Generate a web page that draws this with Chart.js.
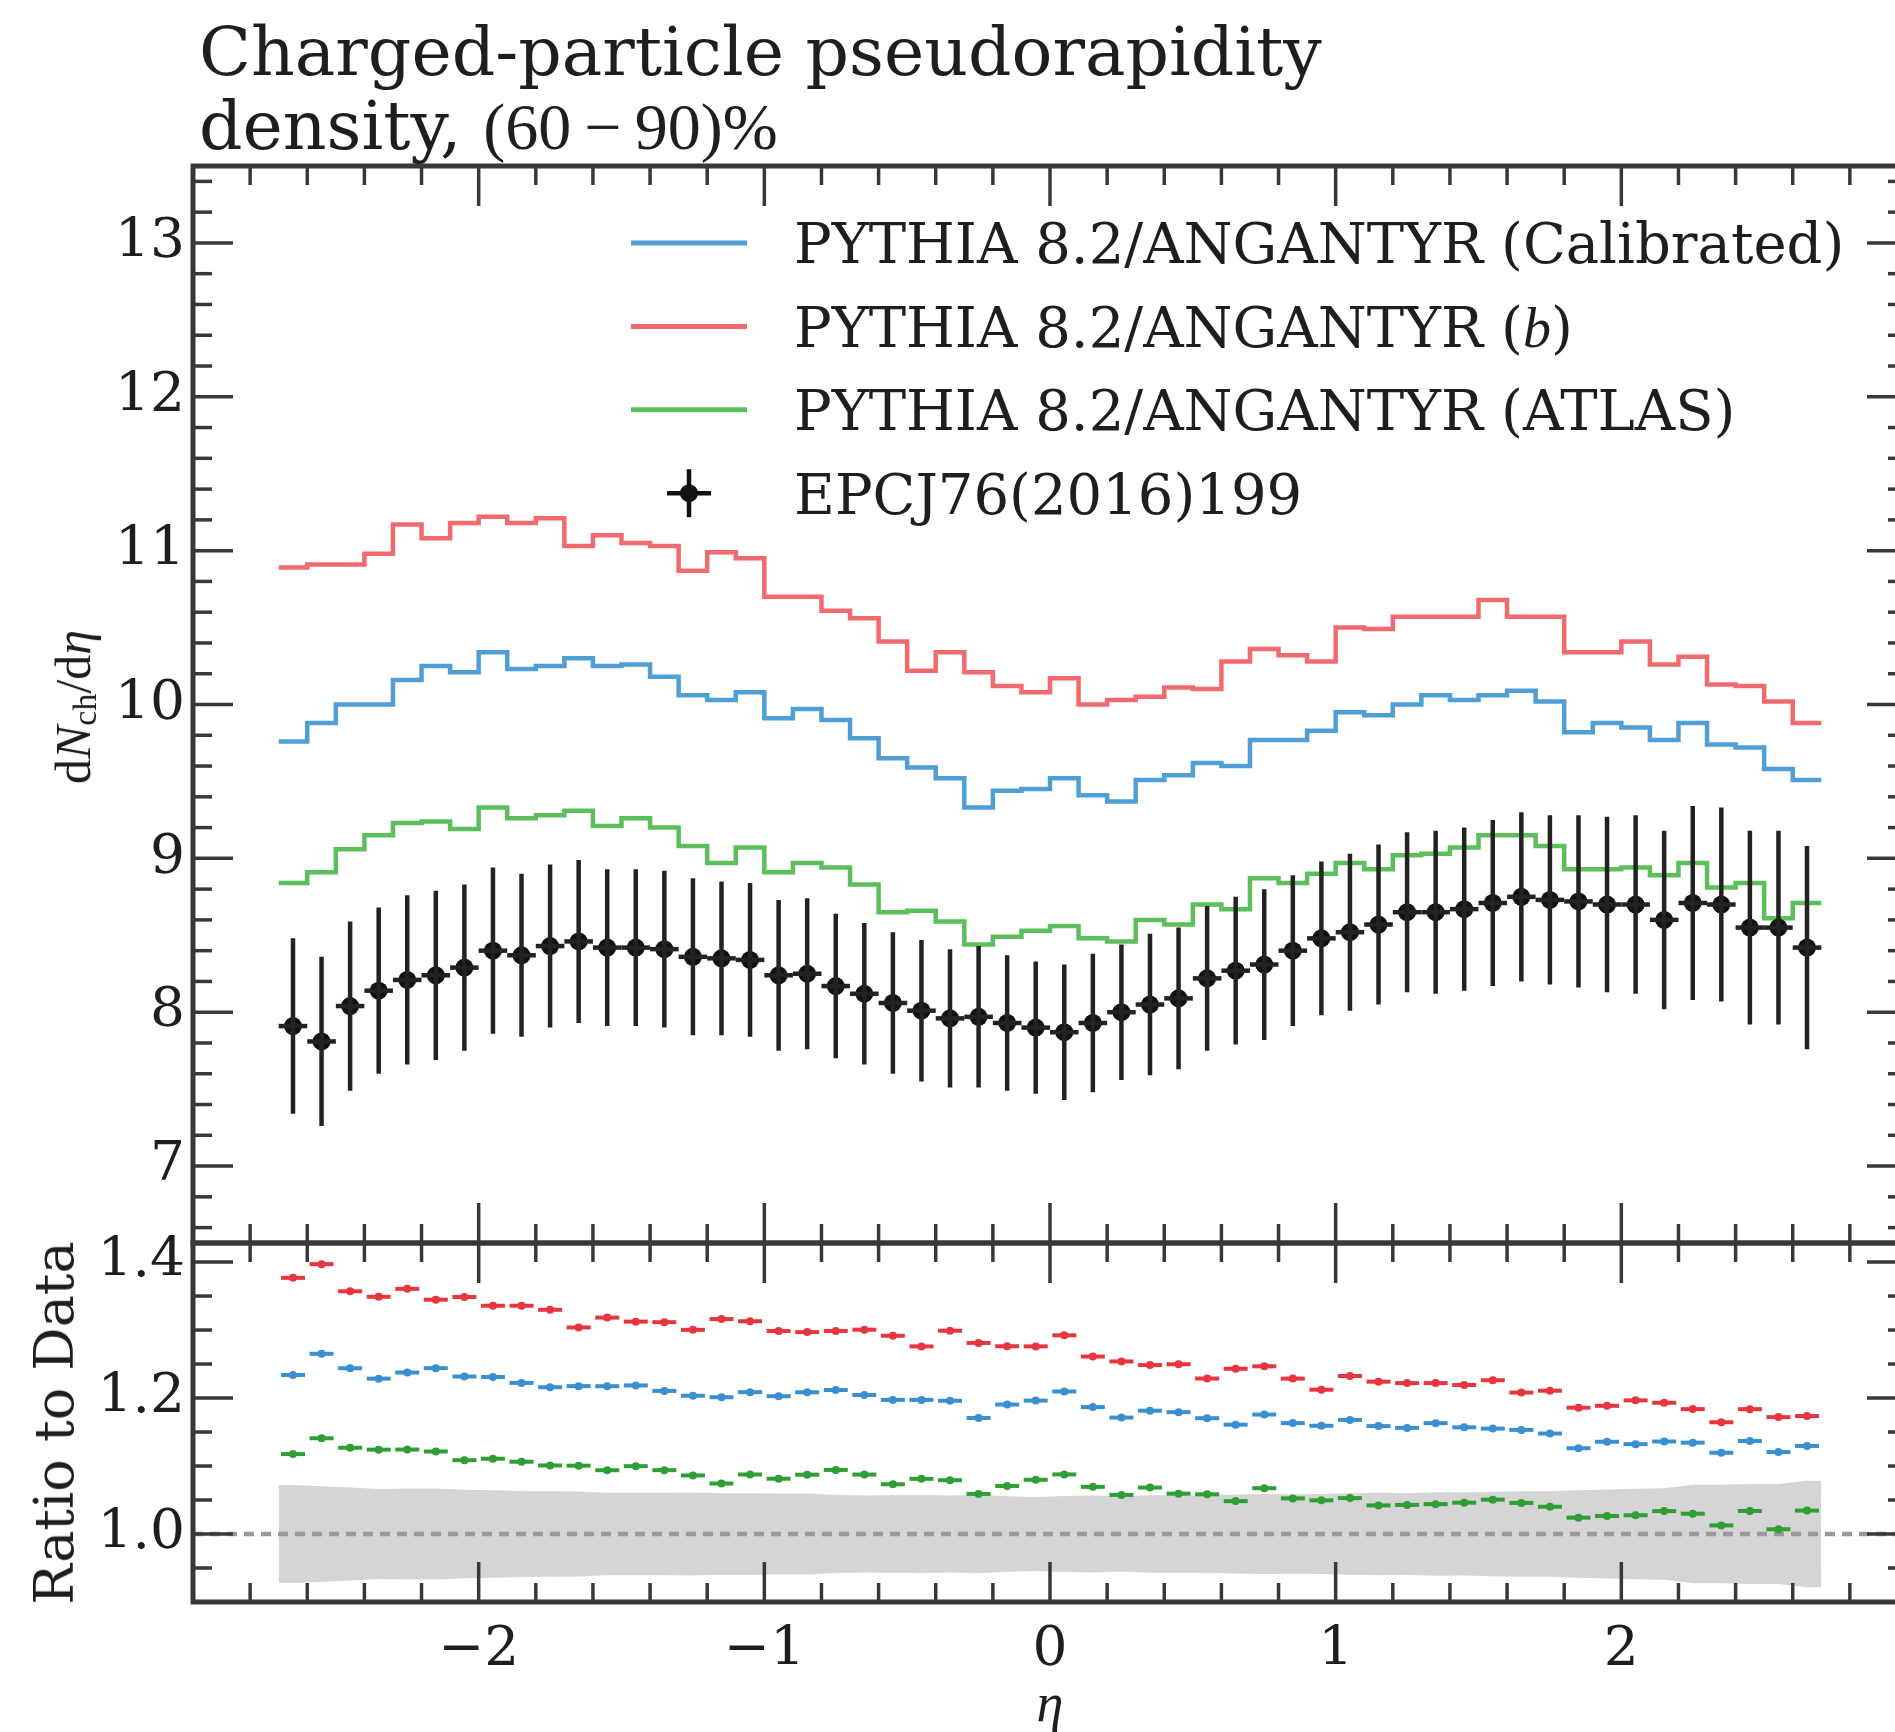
<!DOCTYPE html>
<html>
<head>
<meta charset="utf-8">
<script src="https://cdn.jsdelivr.net/npm/chart.js@4.4.1/dist/chart.umd.min.js"></script>
<style>
  html, body { margin: 0; padding: 0; background: #fff; overflow: hidden; }
  #wrap { position: relative; width: 1895px; height: 1732px; overflow: hidden; }
  #c { position: absolute; left: 0; top: 0; }
  .lbl { position: absolute; color: #1e1e1e; white-space: nowrap; }
  #title { left: 199px; top: 15px; font-family: "DejaVu Serif"; font-size: 68px; line-height: 74px; }
  #title .math { font-family: "Liberation Serif"; font-size: 66px; }
  .rot { transform: translate(-50%, -50%) rotate(-90deg); line-height: 1; }
  #ylab { left: 75px; top: 707px; font-family: "Liberation Serif"; font-size: 50px; }
  #ylab sub { font-size: 34px; vertical-align: -6px; }
  #rlab { left: 55px; top: 1423px; font-family: "DejaVu Serif"; font-size: 54px; }
  #xlab { left: 1050px; top: 1703px; transform: translate(-50%, -50%); font-family: "Liberation Serif"; font-style: italic; font-size: 54px; line-height: 1; }
</style>
</head>
<body>
<div id="wrap">
  <canvas id="c" width="1920" height="1732" style="width:1920px;height:1732px"></canvas>
  <div id="title" class="lbl">Charged-particle pseudorapidity<br>density, <span class="math">(60&#8201;&#8722;&#8201;90)%</span></div>
  <div id="ylab" class="lbl rot">d<i>N</i><sub>ch</sub>/d<i>&#951;</i></div>
  <div id="rlab" class="lbl rot">Ratio to Data</div>
  <div id="xlab" class="lbl">&#951;</div>
</div>
<script>
// bin centres in eta (bins are 0.1 wide)
const etaCenters = [-2.65, -2.55, -2.45, -2.35, -2.25, -2.15, -2.05, -1.95, -1.85, -1.75, -1.65, -1.55, -1.45, -1.35,
  -1.25, -1.15, -1.05, -0.95, -0.85, -0.75, -0.65, -0.55, -0.45, -0.35, -0.25, -0.15, -0.05,
  0.05, 0.15, 0.25, 0.35, 0.45, 0.55, 0.65, 0.75, 0.85, 0.95, 1.05, 1.15, 1.25, 1.35, 1.45,
  1.55, 1.65, 1.75, 1.85, 1.95, 2.05, 2.15, 2.25, 2.35, 2.45, 2.55, 2.65];
const BIN_HALF = 0.05;

// EPCJ76(2016)199 data and its uncertainty
const dataVals = [7.91, 7.81, 8.04, 8.14, 8.21, 8.24, 8.29, 8.40, 8.37, 8.43, 8.46, 8.42, 8.42, 8.41, 8.36, 8.35, 8.34,
  8.24, 8.25, 8.17, 8.12, 8.06, 8.01, 7.96, 7.97, 7.93, 7.90, 7.87, 7.93, 8.00, 8.05, 8.09, 8.22, 8.27, 8.31, 8.40, 8.48,
  8.52, 8.57, 8.65, 8.65, 8.67, 8.71, 8.75, 8.73, 8.72, 8.70, 8.70, 8.60, 8.71, 8.70, 8.55, 8.55, 8.42];
const dataErr = [0.57, 0.55, 0.55, 0.54, 0.55, 0.55, 0.54, 0.54, 0.53, 0.53, 0.53, 0.51, 0.51, 0.51, 0.51, 0.50, 0.50,
  0.49, 0.49, 0.47, 0.46, 0.46, 0.46, 0.45, 0.46, 0.44, 0.43, 0.44, 0.45, 0.44, 0.46, 0.46, 0.47, 0.48, 0.49, 0.49, 0.50,
  0.51, 0.52, 0.52, 0.53, 0.53, 0.54, 0.55, 0.55, 0.56, 0.57, 0.58, 0.58, 0.63, 0.63, 0.63, 0.63, 0.66];

// PYTHIA 8.2/ANGANTYR predictions
const calibVals = [9.76, 9.88, 10.00, 10.00, 10.16, 10.25, 10.21, 10.34, 10.23, 10.25, 10.30, 10.25, 10.26, 10.18, 10.06, 10.03, 10.08,
  9.91, 9.97, 9.90, 9.78, 9.65, 9.59, 9.52, 9.33, 9.44, 9.45, 9.52, 9.41, 9.37, 9.51, 9.54, 9.62, 9.60, 9.77, 9.77, 9.83,
  9.95, 9.93, 10.00, 10.06, 10.03, 10.06, 10.09, 10.02, 9.82, 9.88, 9.85, 9.77, 9.88, 9.74, 9.72, 9.58, 9.51];
const bVals = [10.89, 10.91, 10.91, 10.98, 11.17, 11.08, 11.18, 11.22, 11.18, 11.21, 11.03, 11.10, 11.05, 11.03, 10.87, 10.99, 10.95,
  10.70, 10.70, 10.61, 10.56, 10.41, 10.22, 10.34, 10.21, 10.12, 10.08, 10.17, 10.00, 10.03, 10.05, 10.11, 10.10, 10.28, 10.36, 10.32, 10.28,
  10.50, 10.49, 10.57, 10.57, 10.57, 10.68, 10.57, 10.57, 10.34, 10.34, 10.41, 10.26, 10.31, 10.13, 10.12, 10.02, 9.88];
const atlasVals = [8.84, 8.91, 9.06, 9.15, 9.23, 9.24, 9.19, 9.33, 9.26, 9.28, 9.31, 9.21, 9.26, 9.20, 9.08, 8.97, 9.07,
  8.91, 8.97, 8.94, 8.83, 8.65, 8.66, 8.59, 8.44, 8.49, 8.53, 8.56, 8.48, 8.46, 8.60, 8.57, 8.70, 8.67, 8.87, 8.84, 8.90,
  8.97, 8.93, 9.02, 9.03, 9.07, 9.15, 9.15, 9.08, 8.93, 8.93, 8.94, 8.89, 8.97, 8.81, 8.84, 8.61, 8.71];

// tick labels
const xTicks = [-2, -1, 0, 1, 2];
const yMainTicks = [7, 8, 9, 10, 11, 12, 13];
const yRatioTicks = [1.0, 1.2, 1.4];

const AXIS = '#383838';
const TEXT = '#1e1e1e';
const C_BLUE = '#4f9fd6', C_RED = '#f06a70', C_GREEN = '#5cbf5c';
const R_BLUE = '#3a8fd0', R_RED = '#e8363e', R_GREEN = '#2f9e34';

// histogram outline: one point at each left bin edge plus the last right edge
function stepPoints(vals) {
  const pts = vals.map((v, i) => ({ x: etaCenters[i] - BIN_HALF, y: v }));
  pts.push({ x: etaCenters[etaCenters.length - 1] + BIN_HALF, y: vals[vals.length - 1] });
  return pts;
}
const ratioOf = vals => vals.map((v, i) => ({ x: etaCenters[i], y: v / dataVals[i] }));
const relErr = dataErr.map((e, i) => e / dataVals[i]);
function bandPoints(sign) {
  const pts = etaCenters.map((x, i) => ({ x: x, y: 1 + sign * relErr[i] }));
  pts.unshift({ x: etaCenters[0] - BIN_HALF, y: 1 + sign * relErr[0] });
  pts.push({ x: etaCenters[etaCenters.length - 1] + BIN_HALF, y: 1 + sign * relErr[relErr.length - 1] });
  return pts;
}

const histo = (label, vals, color) => ({
  label: label, data: stepPoints(vals), yAxisID: 'y', showLine: true, stepped: true,
  borderColor: color, borderWidth: 4.5, pointRadius: 0, fill: false, order: 3, legendRow: true
});
const ratioSet = (vals, color) => ({
  data: ratioOf(vals), yAxisID: 'yr', showLine: false, pointRadius: 4,
  pointBackgroundColor: color, pointBorderWidth: 0, order: 2, ratioBar: color
});

const datasets = [
  histo('PYTHIA 8.2/ANGANTYR (Calibrated)', calibVals, C_BLUE),
  histo('PYTHIA 8.2/ANGANTYR (*b*)', bVals, C_RED),
  histo('PYTHIA 8.2/ANGANTYR (ATLAS)', atlasVals, C_GREEN),
  { label: 'EPCJ76(2016)199', data: dataVals.map((v, i) => ({ x: etaCenters[i], y: v })), yAxisID: 'y',
    showLine: false, pointRadius: 9, pointBackgroundColor: '#111', pointBorderWidth: 0, order: 1,
    legendRow: true, isData: true },
  { data: bandPoints(-1), yAxisID: 'yr', showLine: true, borderWidth: 0, pointRadius: 0, fill: false, order: 6 },
  { data: bandPoints(1), yAxisID: 'yr', showLine: true, borderWidth: 0, pointRadius: 0,
    fill: '-1', backgroundColor: '#d5d5d5', order: 5, isBand: true },
  ratioSet(calibVals, R_BLUE),
  ratioSet(bVals, R_RED),
  ratioSet(atlasVals, R_GREEN)
];

function line(ctx, x1, y1, x2, y2) {
  ctx.beginPath(); ctx.moveTo(x1, y1); ctx.lineTo(x2, y2); ctx.stroke();
}

function drawPanel(ctx, xs, ys, yMajor, yMinor) {
  const L = xs.left, R = xs.right, T = ys.top, B = ys.bottom;
  ctx.save();
  ctx.strokeStyle = AXIS;
  ctx.lineWidth = 3.5;
  const yt = (v, len) => { const p = ys.getPixelForValue(v); line(ctx, L, p, L + len, p); line(ctx, R, p, R - len, p); };
  const xt = (v, len) => { const p = xs.getPixelForValue(v); line(ctx, p, T, p, T + len); line(ctx, p, B, p, B - len); };
  yMajor.forEach(v => yt(v, 40));
  yMinor.forEach(v => yt(v, 19));
  xTicks.forEach(v => xt(v, 40));
  for (let k = -14; k <= 14; k++) { if (k % 5) xt(k / 5, 19); }
  ctx.lineWidth = 5;
  ctx.strokeRect(L, T, R - L, B - T);
  ctx.restore();
}

function drawLegend(chart) {
  const ctx = chart.ctx;
  const F = 56;
  const rows = chart.data.datasets.filter(d => d.legendRow);
  const x0 = 631, x1 = 747, tx = 794, y0 = 243, dy = 83.4;
  ctx.save();
  rows.forEach((d, r) => {
    const y = y0 + r * dy;
    if (d.isData) {
      const cx = (x0 + x1) / 2;
      ctx.strokeStyle = '#111'; ctx.lineWidth = 4.5;
      line(ctx, cx, y - 24, cx, y + 24);
      line(ctx, cx - 22, y, cx + 22, y);
      ctx.fillStyle = '#111';
      ctx.beginPath(); ctx.arc(cx, y, 9, 0, Math.PI * 2); ctx.fill();
    } else {
      ctx.strokeStyle = d.borderColor; ctx.lineWidth = 5;
      line(ctx, x0, y, x1, y);
    }
    ctx.fillStyle = TEXT;
    ctx.textBaseline = 'alphabetic';
    let x = tx;
    d.label.split('*').forEach((part, i) => {
      ctx.font = i % 2 ? `italic ${F}px "Liberation Serif"` : `${F}px "DejaVu Serif"`;
      ctx.fillText(part, x, y + 0.365 * F);
      x += ctx.measureText(part).width;
    });
  });
  ctx.restore();
}

const framePlugin = {
  id: 'frame',
  afterDatasetDraw(chart, args) {
    const ds = chart.data.datasets[args.index];
    if (!ds.isBand) return;
    // dashed unity line in the ratio panel
    const ctx = chart.ctx, yr = chart.scales.yr, xs = chart.scales.x;
    const p = yr.getPixelForValue(1);
    ctx.save();
    ctx.strokeStyle = '#999999'; ctx.lineWidth = 4.5; ctx.setLineDash([10, 7]);
    line(ctx, xs.left, p, xs.right, p);
    ctx.restore();
  },
  afterDatasetsDraw(chart) {
    const ctx = chart.ctx, xs = chart.scales.x, ys = chart.scales.y, yr = chart.scales.yr;
    ctx.save();
    chart.data.datasets.forEach(d => {
      if (d.isData) {
        ctx.strokeStyle = '#222'; ctx.lineWidth = 4.5;
        d.data.forEach((pt, i) => {
          const px = xs.getPixelForValue(pt.x);
          line(ctx, px, ys.getPixelForValue(pt.y - dataErr[i]), px, ys.getPixelForValue(pt.y + dataErr[i]));
          const py = ys.getPixelForValue(pt.y);
          line(ctx, xs.getPixelForValue(pt.x - BIN_HALF), py, xs.getPixelForValue(pt.x + BIN_HALF), py);
        });
      }
      if (d.ratioBar) {
        ctx.strokeStyle = d.ratioBar; ctx.lineWidth = 4;
        d.data.forEach(pt => {
          const py = yr.getPixelForValue(pt.y);
          line(ctx, xs.getPixelForValue(pt.x - 0.042), py, xs.getPixelForValue(pt.x + 0.042), py);
        });
      }
    });
    ctx.restore();
  },
  afterDraw(chart) {
    const ctx = chart.ctx, xs = chart.scales.x;
    const mainMinor = [], ratioMinor = [];
    for (let k = 33; k <= 67; k++) { if (k % 5) mainMinor.push(k / 5); }
    for (let k = 19; k <= 28; k++) { if (k % 4) ratioMinor.push(k / 20); }
    drawPanel(ctx, xs, chart.scales.y, yMainTicks, mainMinor);
    drawPanel(ctx, xs, chart.scales.yr, yRatioTicks, ratioMinor);
    drawLegend(chart);
  }
};

const tickFont = { family: 'DejaVu Serif', size: 55 };

new Chart(document.getElementById('c'), {
  type: 'scatter',
  data: { datasets: datasets },
  options: {
    responsive: false,
    animation: false,
    events: [],
    layout: { padding: { top: 166, right: 13, bottom: 0, left: 0 } },
    plugins: { legend: { display: false }, tooltip: { enabled: false } },
    scales: {
      x: {
        type: 'linear', position: 'bottom', min: -3, max: 3,
        grid: { display: false, drawTicks: false }, border: { display: false },
        afterBuildTicks: s => { s.ticks = xTicks.map(v => ({ value: v })); },
        afterFit: s => { s.height = 130; },
        ticks: { font: tickFont, color: TEXT, padding: 16, maxRotation: 0, autoSkip: false,
          callback: v => (v < 0 ? '\u2212' + Math.abs(v) : String(v)) }
      },
      // ratio panel listed first so the stack puts the main panel on top
      yr: {
        type: 'linear', position: 'left', stack: 'panels', stackWeight: 1, min: 0.9, max: 1.428,
        grid: { display: false, drawTicks: false }, border: { display: false },
        afterBuildTicks: s => { s.ticks = yRatioTicks.map(v => ({ value: v })); },
        afterFit: s => { s.width = 193; },
        ticks: { font: tickFont, color: TEXT, padding: 8, autoSkip: false, callback: v => v.toFixed(1) }
      },
      y: {
        type: 'linear', position: 'left', stack: 'panels', stackWeight: 3, min: 6.5, max: 13.5,
        grid: { display: false, drawTicks: false }, border: { display: false },
        afterBuildTicks: s => { s.ticks = yMainTicks.map(v => ({ value: v })); },
        afterFit: s => { s.width = 193; },
        ticks: { font: tickFont, color: TEXT, padding: 8, autoSkip: false, callback: v => String(v) }
      }
    }
  },
  plugins: [framePlugin]
});
</script>
</body>
</html>
